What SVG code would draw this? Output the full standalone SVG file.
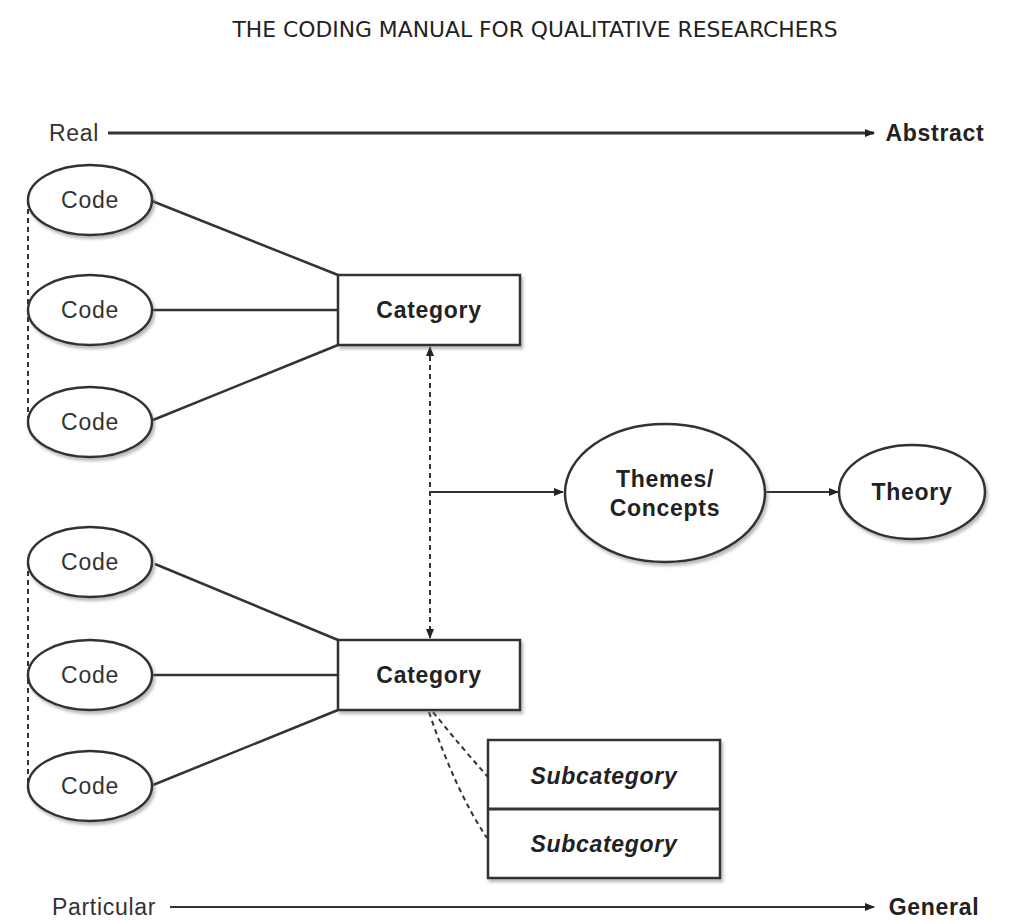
<svg xmlns="http://www.w3.org/2000/svg" width="1022" height="924" viewBox="0 0 1022 924">
<style>
.t{font-family:"Liberation Sans",Arial,sans-serif;font-size:23px;letter-spacing:0.7px;fill:#333;text-anchor:middle}
.b{font-weight:bold;fill:#222}
.i{font-style:italic}
.node{fill:#fff;stroke:#333;stroke-width:2.5;filter:url(#sh)}
.ln{stroke:#333;stroke-width:2.5;fill:none}
.dash{stroke:#333;stroke-width:2;stroke-dasharray:5 4;fill:none}
</style>
<defs>
<filter id="sh" x="-10%" y="-10%" width="130%" height="140%">
<feDropShadow dx="2" dy="3" stdDeviation="1.5" flood-color="#777" flood-opacity="0.5"/>
</filter>
<marker id="ah" viewBox="0 0 10 10" refX="9" refY="5" markerWidth="10" markerHeight="10" markerUnits="userSpaceOnUse" orient="auto">
<path d="M0,1 L10,5 L0,9 Z" fill="#222"/>
</marker>
<marker id="as" viewBox="0 0 10 10" refX="9" refY="5" markerWidth="10" markerHeight="10" markerUnits="userSpaceOnUse" orient="auto-start-reverse">
<path d="M0,1 L10,5 L0,9 Z" fill="#222"/>
</marker>
</defs>
<rect width="1022" height="924" fill="#fff"/>
<text x="535" y="37" style="font-family:'DejaVu Sans Condensed','Liberation Sans',Arial,sans-serif;font-size:22px;fill:#222;text-anchor:middle" textLength="605" lengthAdjust="spacingAndGlyphs">THE CODING MANUAL FOR QUALITATIVE RESEARCHERS</text>

<g id="connectors">
<line x1="108" y1="133" x2="874" y2="133" stroke="#333" stroke-width="3" marker-end="url(#ah)"/>
<line x1="170" y1="907" x2="874" y2="907" stroke="#333" stroke-width="2" marker-end="url(#ah)"/>
<line class="dash" x1="28" y1="200" x2="28" y2="422"/>
<line class="dash" x1="28" y1="562" x2="28" y2="786"/>
<line class="ln" x1="152" y1="201" x2="338" y2="275"/>
<line class="ln" x1="152" y1="310" x2="338" y2="310" stroke-width="1.6"/>
<line class="ln" x1="153" y1="420" x2="338" y2="345"/>
<line class="ln" x1="155" y1="564" x2="338" y2="640"/>
<line class="ln" x1="152" y1="675" x2="338" y2="675" stroke-width="3.2"/>
<line class="ln" x1="153" y1="785" x2="338" y2="710"/>
<line class="dash" x1="430" y1="347" x2="430" y2="638" marker-start="url(#as)" marker-end="url(#as)"/>
<line x1="430" y1="492" x2="563" y2="492" stroke="#333" stroke-width="2" marker-end="url(#ah)"/>
<line x1="765" y1="492" x2="838" y2="492" stroke="#333" stroke-width="2" marker-end="url(#ah)"/>
<path class="dash" d="M433,712 Q462,748 488,777"/>
<path class="dash" d="M429,712 Q455,790 487,838"/>
</g>

<g id="axis-labels">
<text class="t" x="74" y="141">Real</text>
<text class="t b" x="935" y="141">Abstract</text>
<text class="t" x="104" y="915">Particular</text>
<text class="t b" x="934" y="915">General</text>
</g>

<g id="code1"><ellipse class="node" cx="90" cy="200" rx="62" ry="35"/><text class="t" x="90" y="208">Code</text></g>
<g id="code2"><ellipse class="node" cx="90" cy="310" rx="62" ry="35"/><text class="t" x="90" y="318">Code</text></g>
<g id="code3"><ellipse class="node" cx="90" cy="422" rx="62" ry="35"/><text class="t" x="90" y="430">Code</text></g>
<g id="code4"><ellipse class="node" cx="90" cy="562" rx="62" ry="35"/><text class="t" x="90" y="570">Code</text></g>
<g id="code5"><ellipse class="node" cx="90" cy="675" rx="62" ry="35"/><text class="t" x="90" y="683">Code</text></g>
<g id="code6"><ellipse class="node" cx="90" cy="786" rx="62" ry="35"/><text class="t" x="90" y="794">Code</text></g>

<g id="category1"><rect class="node" x="338" y="275" width="182" height="70"/><text class="t b" x="429" y="318">Category</text></g>
<g id="category2"><rect class="node" x="338" y="640" width="182" height="70"/><text class="t b" x="429" y="683">Category</text></g>

<g id="themes"><ellipse class="node" cx="665" cy="493" rx="100" ry="69"/><text class="t b" x="665" y="487">Themes/</text><text class="t b" x="665" y="516">Concepts</text></g>
<g id="theory"><ellipse class="node" cx="912" cy="492" rx="73" ry="47"/><text class="t b" x="912" y="500">Theory</text></g>

<g id="subcategories">
<rect class="node" x="488" y="740" width="232" height="138"/>
<line x1="488" y1="809" x2="720" y2="809" stroke="#333" stroke-width="3"/>
<text class="t b i" x="604" y="784">Subcategory</text>
<text class="t b i" x="604" y="852">Subcategory</text>
</g>
</svg>
